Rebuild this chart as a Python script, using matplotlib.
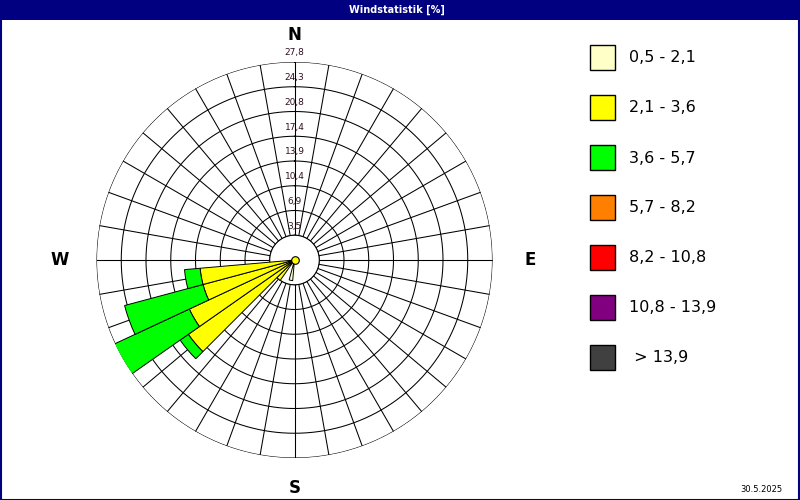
import numpy as np
import matplotlib
matplotlib.use("Agg")
import matplotlib.pyplot as plt
from matplotlib.patches import Rectangle

# ---- data ----
directions = [190, 220, 230, 240, 250, 260]          # compass degrees
cls1 = [2.9, 0.3, 0.3, 0.3, 0.3, 0.3]                 # 0,5 - 2,1
cls2 = [0.0, 3.2, 17.9, 16.0, 13.0, 13.0]             # 2,1 - 3,6
cls3 = [0.0, 0.0, 1.4, 11.8, 11.4, 2.2]               # 3,6 - 5,7
ring_values = [3.475, 6.95, 10.425, 13.9, 17.375, 20.85, 24.325, 27.8]
ring_labels = ["3,5", "6,9", "10,4", "13,9", "17,4", "20,8", "24,3", "27,8"]
legend_labels = ["0,5 - 2,1", "2,1 - 3,6", "3,6 - 5,7", "5,7 - 8,2",
                 "8,2 - 10,8", "10,8 - 13,9", " > 13,9"]
legend_colors = ["#FFFFC8", "#FFFF00", "#00FF00", "#FF8000",
                 "#FF0000", "#800080", "#404040"]
title = "Windstatistik [%]"
date_text = "30.5.2025"

W, H = 800, 500
fig = plt.figure(figsize=(8, 5), dpi=100)
fig.patch.set_facecolor("white")

# frame and title bar
navy = "#000080"
fig.add_artist(Rectangle((0, 1 - 20 / H), 1, 20 / H, transform=fig.transFigure,
                         facecolor=navy, edgecolor="none", zorder=0))
fig.add_artist(Rectangle((0.5 / W, 0.5 / H), 1 - 1.5 / W, 1 - 1 / H, transform=fig.transFigure,
                         facecolor="none", edgecolor=navy, lw=1.5, zorder=0))
fig.text(397 / W, 1 - 10 / H, title, color="white", fontsize=7, fontweight="bold",
         ha="center", va="center", family="DejaVu Sans")
fig.text(782 / W, 1 - 489 / H, date_text, fontsize=6, ha="right", va="center", color="black")

# polar axes: centre (294.5, 260) px, outer radius 198 px
cx, cy, R = 294.5, 260.0, 198.0
ax = fig.add_axes([(cx - R) / W, 1 - (cy + R) / H, 2 * R / W, 2 * R / H], projection="polar")
ax.set_theta_zero_location("N")
ax.set_theta_direction(-1)
rmax = ring_values[-1]
ax.set_ylim(0, rmax)
ax.set_axis_off()

LW = 0.75
# grid rings
th = np.linspace(0, 2 * np.pi, 721)
for rv in ring_values:
    ax.plot(th, np.full_like(th, rv), color="black", lw=LW, zorder=1)
# spokes every 10 deg
for d in range(0, 360, 10):
    t = np.deg2rad(d)
    ax.plot([t, t], [ring_values[0], rmax], color="black", lw=LW, zorder=1)
# main cross lines through centre area
for d in (0, 90, 180, 270):
    t = np.deg2rad(d)
    ax.plot([t, t], [0, rmax], color="black", lw=LW, zorder=1)
# inner calm circle (white)
ax.fill(th, np.full_like(th, ring_values[0]), facecolor="white", edgecolor="black",
        lw=LW, zorder=2)

# stacked bars
theta = np.deg2rad(directions)
width = np.deg2rad(10)
bottom = np.zeros(len(directions))
for vals, col in zip([cls1, cls2, cls3], legend_colors[:3]):
    vals = np.array(vals)
    mask = vals > 0
    ax.bar(theta[mask], vals[mask], width=width, bottom=bottom[mask], color=col,
           edgecolor="black", lw=0.7, zorder=3, align="center")
    bottom = bottom + vals

# centre dot
ax.scatter([0], [0], s=30, color="#FFFF00", edgecolor="black", lw=0.8, zorder=5)

# ring labels
for rv, lab in zip(ring_values, ring_labels):
    ax.annotate(lab, xy=(0, rv), xytext=(0, 6.5), textcoords="offset points",
                ha="center", va="center", fontsize=6.5, color="#301020", zorder=4,
                annotation_clip=False)

# compass letters
for lab, d, rr in [("N", 0, 31.6), ("E", 90, 33.1), ("S", 180, 32.0), ("W", 270, 33.0)]:
    ax.text(np.deg2rad(d), rr, lab, fontsize=12, fontweight="bold", ha="center",
            va="center", clip_on=False)

# legend
for i, (lab, col) in enumerate(zip(legend_labels, legend_colors)):
    top = 45 + 50 * i
    fig.add_artist(Rectangle((590 / W, 1 - (top + 25) / H), 25 / W, 25 / H,
                             transform=fig.transFigure, facecolor=col,
                             edgecolor="black", lw=1))
    fig.text(629 / W, 1 - (top + 13) / H, lab, fontsize=11.5, ha="left", va="center")

fig.savefig("out.png", dpi=100)
